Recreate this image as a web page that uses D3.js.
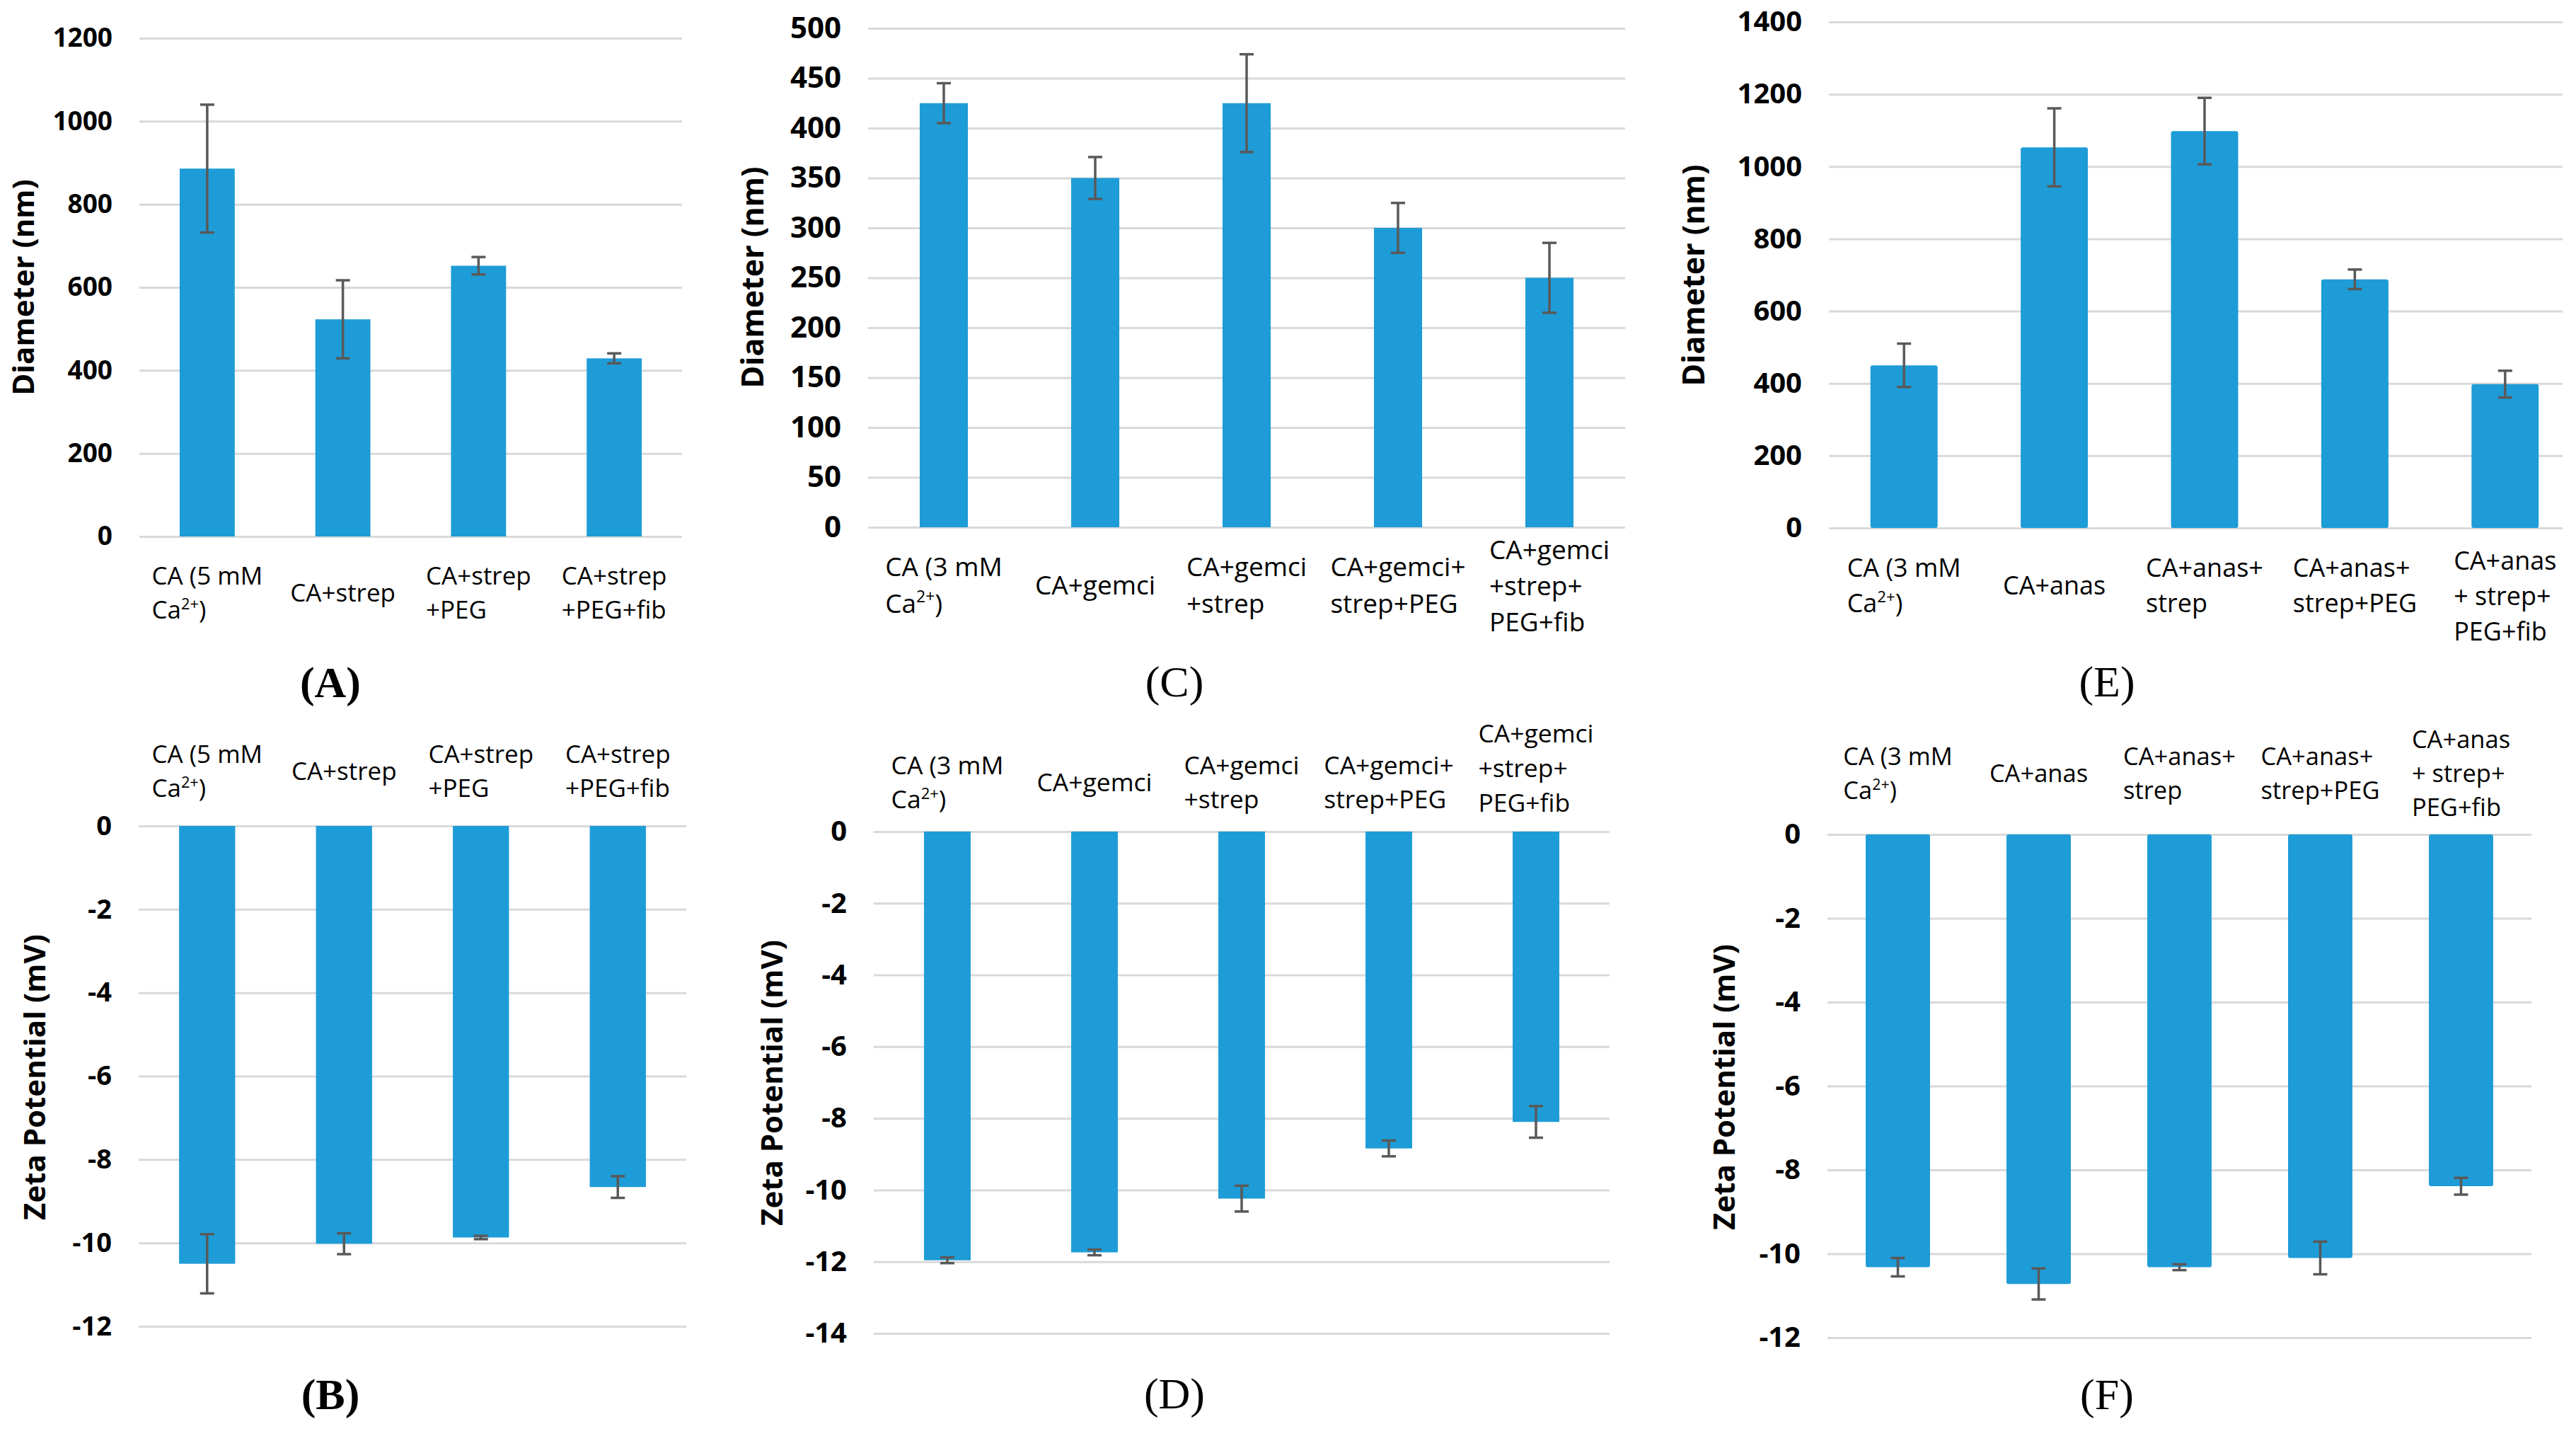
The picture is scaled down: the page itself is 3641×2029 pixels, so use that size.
<!DOCTYPE html>
<html>
<head>
<meta charset="utf-8">
<script src="https://cdn.jsdelivr.net/npm/d3@7"></script>
<style>
  body { margin: 0; background: #fff; }
  text { font-family: "Open Sans", "Liberation Sans", sans-serif; fill: #000; }
</style>
</head>
<body>
<div id="chart"></div>
<script>
// categories (a "^" pair marks superscript)
var catsA = [["CA (5 mM", "Ca^2+^)"], ["CA+strep"], ["CA+strep", "+PEG"], ["CA+strep", "+PEG+fib"]];
var catsC = [["CA (3 mM", "Ca^2+^)"], ["CA+gemci"], ["CA+gemci", "+strep"], ["CA+gemci+", "strep+PEG"], ["CA+gemci", "+strep+", "PEG+fib"]];
var catsE = [["CA (3 mM", "Ca^2+^)"], ["CA+anas"], ["CA+anas+", "strep"], ["CA+anas+", "strep+PEG"], ["CA+anas", "+ strep+", "PEG+fib"]];

// diameter (nm) and zeta potential (mV), mean and error
var diamA = [886, 523, 652, 429];
var diamErrA = [154, 94, 21, 12];
var zetaB = [-10.5, -10.02, -9.87, -8.66];
var zetaErrB = [0.71, 0.25, 0.04, 0.26];
var diamC = [425, 350, 425, 300, 250];
var diamErrC = [20, 21, 49, 25, 35];
var zetaD = [-11.96, -11.74, -10.24, -8.84, -8.1];
var zetaErrD = [0.08, 0.08, 0.36, 0.22, 0.44];
var diamE = [450, 1053, 1098, 688, 398];
var diamErrE = [60, 108, 92, 27, 37];
var zetaF = [-10.32, -10.72, -10.32, -10.1, -8.39];
var zetaErrF = [0.22, 0.37, 0.07, 0.39, 0.2];

// tick labels
var ticksA = [0, 200, 400, 600, 800, 1000, 1200];
var ticksB = [0, -2, -4, -6, -8, -10, -12];
var ticksC = [0, 50, 100, 150, 200, 250, 300, 350, 400, 450, 500];
var ticksD = [0, -2, -4, -6, -8, -10, -12, -14];
var ticksE = [0, 200, 400, 600, 800, 1000, 1200, 1400];
var ticksF = [0, -2, -4, -6, -8, -10, -12];

var W = 3641, H = 2029;
var barColor = "#1e9cd7", gridColor = "#d9d9d9", errColor = "#595959";

var panels = [
  {letter: "A", bold: true, cats: catsA, vals: diamA, errs: diamErrA, ticks: ticksA, title: "Diameter (nm)",
   left: 197, right: 964, gridRight: 964, y0: 758, yEnd: 54, barFrac: 0.406, rx: 0,
   tickFs: 37, titleFs: 42, titleX: 48, titleY: 406, labFs: 35, labY: 850, labY3: 850,
   letterX: 467, letterY: 963},
  {letter: "B", bold: true, cats: catsA, vals: zetaB, errs: zetaErrB, ticks: ticksB, title: "Zeta Potential (mV)",
   left: 196, right: 970, gridRight: 970, y0: 1167, yEnd: 1874, barFrac: 0.41, rx: 0,
   tickFs: 38, titleFs: 42, titleX: 64, titleY: 1522, labFs: 35, labY: 1102, labY3: 1102,
   letterX: 467, letterY: 1969},
  {letter: "C", bold: false, cats: catsC, vals: diamC, errs: diamErrC, ticks: ticksC, title: "Diameter (nm)",
   left: 1227, right: 2297, gridRight: 2297, y0: 745, yEnd: 40, barFrac: 0.318, rx: 0,
   tickFs: 42, titleFs: 43, titleX: 1079, titleY: 392, labFs: 37, labY: 840, labY3: 841,
   letterX: 1660, letterY: 962},
  {letter: "D", bold: false, cats: catsC, vals: zetaD, errs: zetaErrD, ticks: ticksD, title: "Zeta Potential (mV)",
   left: 1235, right: 2275, gridRight: 2275, y0: 1175, yEnd: 1884, barFrac: 0.317, rx: 0,
   tickFs: 40, titleFs: 42, titleX: 1106, titleY: 1530, labFs: 35.5, labY: 1118, labY3: 1098,
   letterX: 1660, letterY: 1968},
  {letter: "E", bold: false, cats: catsE, vals: diamE, errs: diamErrE, ticks: ticksE, title: "Diameter (nm)",
   left: 2585, right: 3647, gridRight: 3622, y0: 746, yEnd: 31, barFrac: 0.447, rx: 3,
   tickFs: 40, titleFs: 43, titleX: 2409, titleY: 389, labFs: 36, labY: 840, labY3: 855,
   letterX: 2978, letterY: 962},
  {letter: "F", bold: false, cats: catsE, vals: zetaF, errs: zetaErrF, ticks: ticksF, title: "Zeta Potential (mV)",
   left: 2583, right: 3578, gridRight: 3578, y0: 1179, yEnd: 1890, barFrac: 0.457, rx: 3,
   tickFs: 40, titleFs: 42, titleX: 2452, titleY: 1536, labFs: 34.5, labY: 1105, labY3: 1105,
   letterX: 2978, letterY: 1969}
];

var svg = d3.select("#chart").append("svg")
    .attr("width", W)
    .attr("height", H)
    .style("display", "block")
    .style("background", "#fff");

// category label: lines centred as a block, left aligned inside it
function catLabel(g, lines, cx, cy, fs) {
  var lh = fs * 1.38;
  var texts = [];
  lines.forEach(function(line, i) {
    var t = g.append("text")
        .attr("y", cy + (i - (lines.length - 1) / 2) * lh)
        .style("font-size", fs + "px");
    var parts = line.split("^");
    var shift = fs * 0.38;
    parts.forEach(function(p, j) {
      if (p === "") return;
      var ts = t.append("tspan").text(p);
      if (j % 2 === 1) {
        ts.style("font-size", (fs * 0.62) + "px").attr("dy", -shift);
      } else if (j > 0) {
        ts.attr("dy", shift);
      }
    });
    texts.push(t);
  });
  var maxW = d3.max(texts, function(t) { return t.node().getComputedTextLength(); });
  texts.forEach(function(t) { t.attr("x", cx - maxW / 2); });
}

panels.forEach(function(p) {
  var g = svg.append("g");

  var x = d3.scaleBand()
      .domain(d3.range(p.cats.length))
      .range([p.left, p.right])
      .paddingInner(1 - p.barFrac)
      .paddingOuter((1 - p.barFrac) / 2);

  var y = d3.scaleLinear()
      .domain([0, p.ticks[p.ticks.length - 1]])
      .range([p.y0, p.yEnd]);

  // gridlines + tick labels
  var ax = g.append("g")
      .attr("transform", "translate(" + p.left + ",0)")
      .call(d3.axisLeft(y)
        .tickValues(p.ticks)
        .tickSize(-(p.gridRight - p.left))
        .tickPadding(38)
        .tickFormat(function(d) { return String(d); }));
  ax.select(".domain").remove();
  ax.selectAll(".tick line")
      .attr("stroke", gridColor)
      .attr("stroke-width", 3);
  ax.selectAll(".tick text")
      .attr("x", -38)
      .style("font-family", "'Open Sans', sans-serif")
      .style("font-size", p.tickFs + "px")
      .style("font-weight", "bold")
      .attr("fill", "#000");

  // bars
  g.selectAll(".bar")
    .data(p.vals)
    .enter().append("rect")
      .attr("x", function(d, i) { return x(i); })
      .attr("y", function(d) { return Math.min(y(d), y(0)); })
      .attr("width", x.bandwidth())
      .attr("height", function(d) { return Math.abs(y(d) - y(0)); })
      .attr("rx", p.rx)
      .attr("fill", barColor);

  // error bars
  var cap = 10;
  var eb = g.selectAll(".err")
    .data(p.vals)
    .enter().append("g")
      .attr("stroke", errColor)
      .attr("stroke-width", 3.5);
  eb.append("line")
      .attr("x1", function(d, i) { return x(i) + x.bandwidth() / 2; })
      .attr("x2", function(d, i) { return x(i) + x.bandwidth() / 2; })
      .attr("y1", function(d, i) { return y(d - p.errs[i]); })
      .attr("y2", function(d, i) { return y(d + p.errs[i]); });
  [-1, 1].forEach(function(s) {
    eb.append("line")
        .attr("x1", function(d, i) { return x(i) + x.bandwidth() / 2 - cap; })
        .attr("x2", function(d, i) { return x(i) + x.bandwidth() / 2 + cap; })
        .attr("y1", function(d, i) { return y(d + s * p.errs[i]); })
        .attr("y2", function(d, i) { return y(d + s * p.errs[i]); });
  });

  // category labels
  p.cats.forEach(function(lines, i) {
    catLabel(g, lines, x(i) + x.bandwidth() / 2, lines.length > 2 ? p.labY3 : p.labY, p.labFs);
  });

  // y axis title
  g.append("text")
      .attr("transform", "translate(" + p.titleX + "," + p.titleY + ") rotate(-90)")
      .attr("text-anchor", "middle")
      .style("font-size", p.titleFs + "px")
      .style("font-weight", "bold")
      .text(p.title);

  // panel letter
  g.append("text")
      .attr("x", p.letterX)
      .attr("y", p.letterY)
      .attr("dy", "0.35em")
      .attr("text-anchor", "middle")
      .style("font-family", "'Liberation Serif', 'DejaVu Serif', serif")
      .style("font-size", "62px")
      .style("font-weight", p.bold ? "bold" : "normal")
      .text("(" + p.letter + ")");
});
</script>
</body>
</html>
